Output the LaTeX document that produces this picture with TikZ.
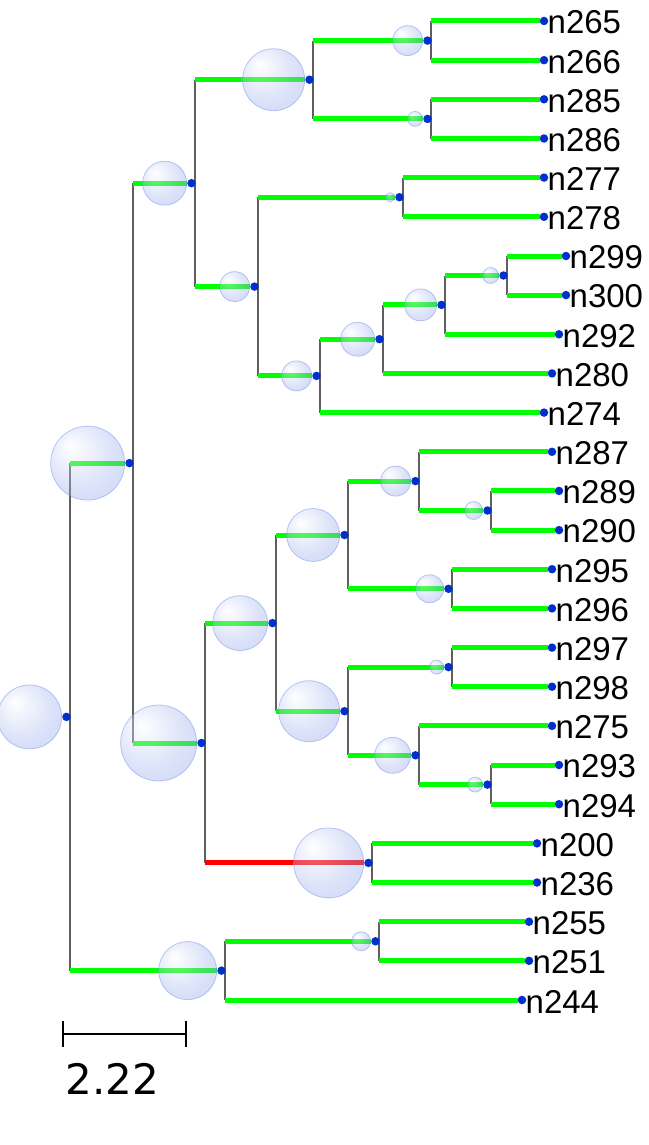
\documentclass[tikz,border=0pt]{standalone}
\usepackage{fontspec}
\setmainfont{Liberation Sans}
\newfontfamily\barfont{DejaVu Sans}
\usepackage{xcolor}
\usepackage{tikz}
\usetikzlibrary{positioning}
\definecolor{brgreen}{RGB}{0,255,0}
\definecolor{brred}{RGB}{255,0,0}
\definecolor{vgray}{RGB}{95,95,95}
\definecolor{dotblue}{RGB}{0,48,204}
\definecolor{bubmid}{RGB}{160,178,238}
\definecolor{bubout}{RGB}{100,128,228}
\definecolor{bubedge}{RGB}{110,138,230}
\pgfdeclareradialshading{bubshade}{\pgfpoint{-12bp}{12bp}}{color(0bp)=(white); color(24bp)=(bubmid); color(50bp)=(bubout)}
\pgfdeclarelayer{lines}
\pgfdeclarelayer{bubbles}
\pgfsetlayers{lines,bubbles,main}
\tikzstyle{branch} = [line width=5pt, draw=brgreen]
\tikzstyle{redbranch} = [line width=5pt, draw=brred]
\tikzstyle{vline} = [line width=1.4pt, draw=vgray]
\tikzstyle{bubble} = [circle, inner sep=0pt, shade, shading=bubshade, draw=bubedge, line width=0.8pt, fill opacity=0.38, draw opacity=0.45]
\tikzstyle{dot} = [circle, fill=dotblue, inner sep=0pt, minimum size=8.5pt]
\tikzstyle{leaflabel} = [inner sep=0pt, font=\fontsize{33}{40}\selectfont]
\tikzstyle{scalebar} = [line width=2pt, black]

\begin{document}
\begin{tikzpicture}[x=1pt,y=-1pt]
\useasboundingbox (0,0) rectangle (648,1145);

% inner nodes
\node[dot] (root) at (66.5,716.9) {};
\node[dot] (pA) at (129.5,463.1) {};
\node[dot] (pA1) at (191.5,183.2) {};
\node[dot] (pA1a) at (309.5,79.7) {};
\node[dot] (pA1a1) at (427.5,40.6) {};
\node[dot] (pA1a2) at (427.5,118.9) {};
\node[dot] (pA1b) at (254.5,286.6) {};
\node[dot] (pA1b1) at (399.5,197.2) {};
\node[dot] (pA1b2) at (316.5,375.9) {};
\node[dot] (pA1b2a) at (379.5,339.2) {};
\node[dot] (pA1b2a1) at (441.5,304.9) {};
\node[dot] (pA1b2a1a) at (503.5,275.5) {};
\node[dot] (pA2) at (201.5,743) {};
\node[dot] (pA2a) at (272.5,623.1) {};
\node[dot] (pA2a1) at (344.5,535) {};
\node[dot] (pA2a1a) at (415.5,481.1) {};
\node[dot] (pA2a1a2) at (487.5,510.5) {};
\node[dot] (pA2a1b) at (448.5,588.8) {};
\node[dot] (pA2a2) at (344.5,711.2) {};
\node[dot] (pA2a2a) at (448.5,667.1) {};
\node[dot] (pA2a2b) at (415.5,755.3) {};
\node[dot] (pA2a2b2) at (487.5,784.6) {};
\node[dot] (pA2b) at (368.5,862.9) {};
\node[dot] (pB) at (221.5,970.6) {};
\node[dot] (pB1) at (375.5,941.3) {};

% leaves
\node[dot] (t265) at (544,21) {};
\node[dot] (t266) at (544,60.2) {};
\node[dot] (t285) at (544,99.3) {};
\node[dot] (t286) at (544,138.5) {};
\node[dot] (t277) at (544,177.6) {};
\node[dot] (t278) at (544,216.8) {};
\node[dot] (t299) at (566,256) {};
\node[dot] (t300) at (566,295.1) {};
\node[dot] (t292) at (559,334.3) {};
\node[dot] (t280) at (552,373.4) {};
\node[dot] (t274) at (544,412.6) {};
\node[dot] (t287) at (552,451.8) {};
\node[dot] (t289) at (559,490.9) {};
\node[dot] (t290) at (559,530.1) {};
\node[dot] (t295) at (552,569.2) {};
\node[dot] (t296) at (552,608.4) {};
\node[dot] (t297) at (552,647.6) {};
\node[dot] (t298) at (552,686.7) {};
\node[dot] (t275) at (552,725.9) {};
\node[dot] (t293) at (559,765) {};
\node[dot] (t294) at (559,804.2) {};
\node[dot] (t200) at (537,843.4) {};
\node[dot] (t236) at (537,882.5) {};
\node[dot] (t255) at (529,921.7) {};
\node[dot] (t251) at (529,960.8) {};
\node[dot] (t244) at (522,1000) {};

\node[leaflabel, right=-1pt of t265, yshift=-1.5pt] (n265) {n265};
\node[leaflabel, right=-1pt of t266, yshift=-1.5pt] (n266) {n266};
\node[leaflabel, right=-1pt of t285, yshift=-1.5pt] (n285) {n285};
\node[leaflabel, right=-1pt of t286, yshift=-1.5pt] (n286) {n286};
\node[leaflabel, right=-1pt of t277, yshift=-1.5pt] (n277) {n277};
\node[leaflabel, right=-1pt of t278, yshift=-1.5pt] (n278) {n278};
\node[leaflabel, right=-1pt of t299, yshift=-1.5pt] (n299) {n299};
\node[leaflabel, right=-1pt of t300, yshift=-1.5pt] (n300) {n300};
\node[leaflabel, right=-1pt of t292, yshift=-1.5pt] (n292) {n292};
\node[leaflabel, right=-1pt of t280, yshift=-1.5pt] (n280) {n280};
\node[leaflabel, right=-1pt of t274, yshift=-1.5pt] (n274) {n274};
\node[leaflabel, right=-1pt of t287, yshift=-1.5pt] (n287) {n287};
\node[leaflabel, right=-1pt of t289, yshift=-1.5pt] (n289) {n289};
\node[leaflabel, right=-1pt of t290, yshift=-1.5pt] (n290) {n290};
\node[leaflabel, right=-1pt of t295, yshift=-1.5pt] (n295) {n295};
\node[leaflabel, right=-1pt of t296, yshift=-1.5pt] (n296) {n296};
\node[leaflabel, right=-1pt of t297, yshift=-1.5pt] (n297) {n297};
\node[leaflabel, right=-1pt of t298, yshift=-1.5pt] (n298) {n298};
\node[leaflabel, right=-1pt of t275, yshift=-1.5pt] (n275) {n275};
\node[leaflabel, right=-1pt of t293, yshift=-1.5pt] (n293) {n293};
\node[leaflabel, right=-1pt of t294, yshift=-1.5pt] (n294) {n294};
\node[leaflabel, right=-1pt of t200, yshift=-1.5pt] (n200) {n200};
\node[leaflabel, right=-1pt of t236, yshift=-1.5pt] (n236) {n236};
\node[leaflabel, right=-1pt of t255, yshift=-1.5pt] (n255) {n255};
\node[leaflabel, right=-1pt of t251, yshift=-1.5pt] (n251) {n251};
\node[leaflabel, right=-1pt of t244, yshift=-1.5pt] (n244) {n244};

% support bubbles
\begin{pgfonlayer}{bubbles}
\node[bubble, minimum size=64pt, left=0pt of root] (broot) {};
\node[bubble, minimum size=74pt, left=0pt of pA] (bA) {};
\node[bubble, minimum size=44pt, left=0pt of pA1] (bA1) {};
\node[bubble, minimum size=62pt, left=0pt of pA1a] (bA1a) {};
\node[bubble, minimum size=30pt, left=0pt of pA1a1] (bA1a1) {};
\node[bubble, minimum size=15pt, left=0pt of pA1a2] (bA1a2) {};
\node[bubble, minimum size=30pt, left=0pt of pA1b] (bA1b) {};
\node[bubble, minimum size=9pt, left=0pt of pA1b1] (bA1b1) {};
\node[bubble, minimum size=30pt, left=0pt of pA1b2] (bA1b2) {};
\node[bubble, minimum size=34pt, left=0pt of pA1b2a] (bA1b2a) {};
\node[bubble, minimum size=32pt, left=0pt of pA1b2a1] (bA1b2a1) {};
\node[bubble, minimum size=16pt, left=0pt of pA1b2a1a] (bA1b2a1a) {};
\node[bubble, minimum size=76pt, left=0pt of pA2] (bA2) {};
\node[bubble, minimum size=55pt, left=0pt of pA2a] (bA2a) {};
\node[bubble, minimum size=53pt, left=0pt of pA2a1] (bA2a1) {};
\node[bubble, minimum size=30pt, left=0pt of pA2a1a] (bA2a1a) {};
\node[bubble, minimum size=18pt, left=0pt of pA2a1a2] (bA2a1a2) {};
\node[bubble, minimum size=28pt, left=0pt of pA2a1b] (bA2a1b) {};
\node[bubble, minimum size=61pt, left=0pt of pA2a2] (bA2a2) {};
\node[bubble, minimum size=14pt, left=0pt of pA2a2a] (bA2a2a) {};
\node[bubble, minimum size=36pt, left=0pt of pA2a2b] (bA2a2b) {};
\node[bubble, minimum size=15pt, left=0pt of pA2a2b2] (bA2a2b2) {};
\node[bubble, minimum size=70pt, left=0pt of pA2b] (bA2b) {};
\node[bubble, minimum size=58pt, left=0pt of pB] (bB) {};
\node[bubble, minimum size=19pt, left=0pt of pB1] (bB1) {};
\end{pgfonlayer}

% tree lines
\begin{pgfonlayer}{lines}
\draw[vline] ([xshift=3.5pt]root |- pA) -- ([xshift=3.5pt]root |- pB);
\draw[vline] ([xshift=3.5pt]pA |- pA1) -- ([xshift=3.5pt]pA |- pA2);
\draw[vline] ([xshift=3.5pt]pA1 |- pA1a) -- ([xshift=3.5pt]pA1 |- pA1b);
\draw[vline] ([xshift=3.5pt]pA1a |- pA1a1) -- ([xshift=3.5pt]pA1a |- pA1a2);
\draw[vline] ([xshift=3.5pt]pA1a1 |- t265) -- ([xshift=3.5pt]pA1a1 |- t266);
\draw[vline] ([xshift=3.5pt]pA1a2 |- t285) -- ([xshift=3.5pt]pA1a2 |- t286);
\draw[vline] ([xshift=3.5pt]pA1b |- pA1b1) -- ([xshift=3.5pt]pA1b |- pA1b2);
\draw[vline] ([xshift=3.5pt]pA1b1 |- t277) -- ([xshift=3.5pt]pA1b1 |- t278);
\draw[vline] ([xshift=3.5pt]pA1b2 |- pA1b2a) -- ([xshift=3.5pt]pA1b2 |- t274);
\draw[vline] ([xshift=3.5pt]pA1b2a |- pA1b2a1) -- ([xshift=3.5pt]pA1b2a |- t280);
\draw[vline] ([xshift=3.5pt]pA1b2a1 |- pA1b2a1a) -- ([xshift=3.5pt]pA1b2a1 |- t292);
\draw[vline] ([xshift=3.5pt]pA1b2a1a |- t299) -- ([xshift=3.5pt]pA1b2a1a |- t300);
\draw[vline] ([xshift=3.5pt]pA2 |- pA2a) -- ([xshift=3.5pt]pA2 |- pA2b);
\draw[vline] ([xshift=3.5pt]pA2a |- pA2a1) -- ([xshift=3.5pt]pA2a |- pA2a2);
\draw[vline] ([xshift=3.5pt]pA2a1 |- pA2a1a) -- ([xshift=3.5pt]pA2a1 |- pA2a1b);
\draw[vline] ([xshift=3.5pt]pA2a1a |- t287) -- ([xshift=3.5pt]pA2a1a |- pA2a1a2);
\draw[vline] ([xshift=3.5pt]pA2a1a2 |- t289) -- ([xshift=3.5pt]pA2a1a2 |- t290);
\draw[vline] ([xshift=3.5pt]pA2a1b |- t295) -- ([xshift=3.5pt]pA2a1b |- t296);
\draw[vline] ([xshift=3.5pt]pA2a2 |- pA2a2a) -- ([xshift=3.5pt]pA2a2 |- pA2a2b);
\draw[vline] ([xshift=3.5pt]pA2a2a |- t297) -- ([xshift=3.5pt]pA2a2a |- t298);
\draw[vline] ([xshift=3.5pt]pA2a2b |- t275) -- ([xshift=3.5pt]pA2a2b |- pA2a2b2);
\draw[vline] ([xshift=3.5pt]pA2a2b2 |- t293) -- ([xshift=3.5pt]pA2a2b2 |- t294);
\draw[vline] ([xshift=3.5pt]pA2b |- t200) -- ([xshift=3.5pt]pA2b |- t236);
\draw[vline] ([xshift=3.5pt]pB |- pB1) -- ([xshift=3.5pt]pB |- t244);
\draw[vline] ([xshift=3.5pt]pB1 |- t255) -- ([xshift=3.5pt]pB1 |- t251);

\draw[branch] ([xshift=3.5pt]root |- pA) -- (pA);
\draw[branch] ([xshift=3.5pt]root |- pB) -- (pB);
\draw[branch] ([xshift=3.5pt]pA |- pA1) -- (pA1);
\draw[branch] ([xshift=3.5pt]pA |- pA2) -- (pA2);
\draw[branch] ([xshift=3.5pt]pA1 |- pA1a) -- (pA1a);
\draw[branch] ([xshift=3.5pt]pA1 |- pA1b) -- (pA1b);
\draw[branch] ([xshift=3.5pt]pA1a |- pA1a1) -- (pA1a1);
\draw[branch] ([xshift=3.5pt]pA1a |- pA1a2) -- (pA1a2);
\draw[branch] ([xshift=3.5pt]pA1a1 |- t265) -- (t265);
\draw[branch] ([xshift=3.5pt]pA1a1 |- t266) -- (t266);
\draw[branch] ([xshift=3.5pt]pA1a2 |- t285) -- (t285);
\draw[branch] ([xshift=3.5pt]pA1a2 |- t286) -- (t286);
\draw[branch] ([xshift=3.5pt]pA1b |- pA1b1) -- (pA1b1);
\draw[branch] ([xshift=3.5pt]pA1b |- pA1b2) -- (pA1b2);
\draw[branch] ([xshift=3.5pt]pA1b1 |- t277) -- (t277);
\draw[branch] ([xshift=3.5pt]pA1b1 |- t278) -- (t278);
\draw[branch] ([xshift=3.5pt]pA1b2 |- pA1b2a) -- (pA1b2a);
\draw[branch] ([xshift=3.5pt]pA1b2 |- t274) -- (t274);
\draw[branch] ([xshift=3.5pt]pA1b2a |- pA1b2a1) -- (pA1b2a1);
\draw[branch] ([xshift=3.5pt]pA1b2a |- t280) -- (t280);
\draw[branch] ([xshift=3.5pt]pA1b2a1 |- pA1b2a1a) -- (pA1b2a1a);
\draw[branch] ([xshift=3.5pt]pA1b2a1 |- t292) -- (t292);
\draw[branch] ([xshift=3.5pt]pA1b2a1a |- t299) -- (t299);
\draw[branch] ([xshift=3.5pt]pA1b2a1a |- t300) -- (t300);
\draw[branch] ([xshift=3.5pt]pA2 |- pA2a) -- (pA2a);
\draw[redbranch] ([xshift=3.5pt]pA2 |- pA2b) -- (pA2b);
\draw[branch] ([xshift=3.5pt]pA2a |- pA2a1) -- (pA2a1);
\draw[branch] ([xshift=3.5pt]pA2a |- pA2a2) -- (pA2a2);
\draw[branch] ([xshift=3.5pt]pA2a1 |- pA2a1a) -- (pA2a1a);
\draw[branch] ([xshift=3.5pt]pA2a1 |- pA2a1b) -- (pA2a1b);
\draw[branch] ([xshift=3.5pt]pA2a1a |- t287) -- (t287);
\draw[branch] ([xshift=3.5pt]pA2a1a |- pA2a1a2) -- (pA2a1a2);
\draw[branch] ([xshift=3.5pt]pA2a1a2 |- t289) -- (t289);
\draw[branch] ([xshift=3.5pt]pA2a1a2 |- t290) -- (t290);
\draw[branch] ([xshift=3.5pt]pA2a1b |- t295) -- (t295);
\draw[branch] ([xshift=3.5pt]pA2a1b |- t296) -- (t296);
\draw[branch] ([xshift=3.5pt]pA2a2 |- pA2a2a) -- (pA2a2a);
\draw[branch] ([xshift=3.5pt]pA2a2 |- pA2a2b) -- (pA2a2b);
\draw[branch] ([xshift=3.5pt]pA2a2a |- t297) -- (t297);
\draw[branch] ([xshift=3.5pt]pA2a2a |- t298) -- (t298);
\draw[branch] ([xshift=3.5pt]pA2a2b |- t275) -- (t275);
\draw[branch] ([xshift=3.5pt]pA2a2b |- pA2a2b2) -- (pA2a2b2);
\draw[branch] ([xshift=3.5pt]pA2a2b2 |- t293) -- (t293);
\draw[branch] ([xshift=3.5pt]pA2a2b2 |- t294) -- (t294);
\draw[branch] ([xshift=3.5pt]pA2b |- t200) -- (t200);
\draw[branch] ([xshift=3.5pt]pA2b |- t236) -- (t236);
\draw[branch] ([xshift=3.5pt]pB |- pB1) -- (pB1);
\draw[branch] ([xshift=3.5pt]pB |- t244) -- (t244);
\draw[branch] ([xshift=3.5pt]pB1 |- t255) -- (t255);
\draw[branch] ([xshift=3.5pt]pB1 |- t251) -- (t251);
\end{pgfonlayer}

% scale
\coordinate (sbl) at (63,1034);
\coordinate (sbr) at (186,1034);
\draw[scalebar] (sbl) -- (sbr);
\draw[scalebar] ([yshift=13pt]sbl) -- ([yshift=-13pt]sbl);
\draw[scalebar] ([yshift=13pt]sbr) -- ([yshift=-13pt]sbr);
\node[inner sep=0pt, font=\barfont\fontsize{42}{50}\selectfont] (sbtext) at (112.5,1079) {2.22};

\end{tikzpicture}
\end{document}
